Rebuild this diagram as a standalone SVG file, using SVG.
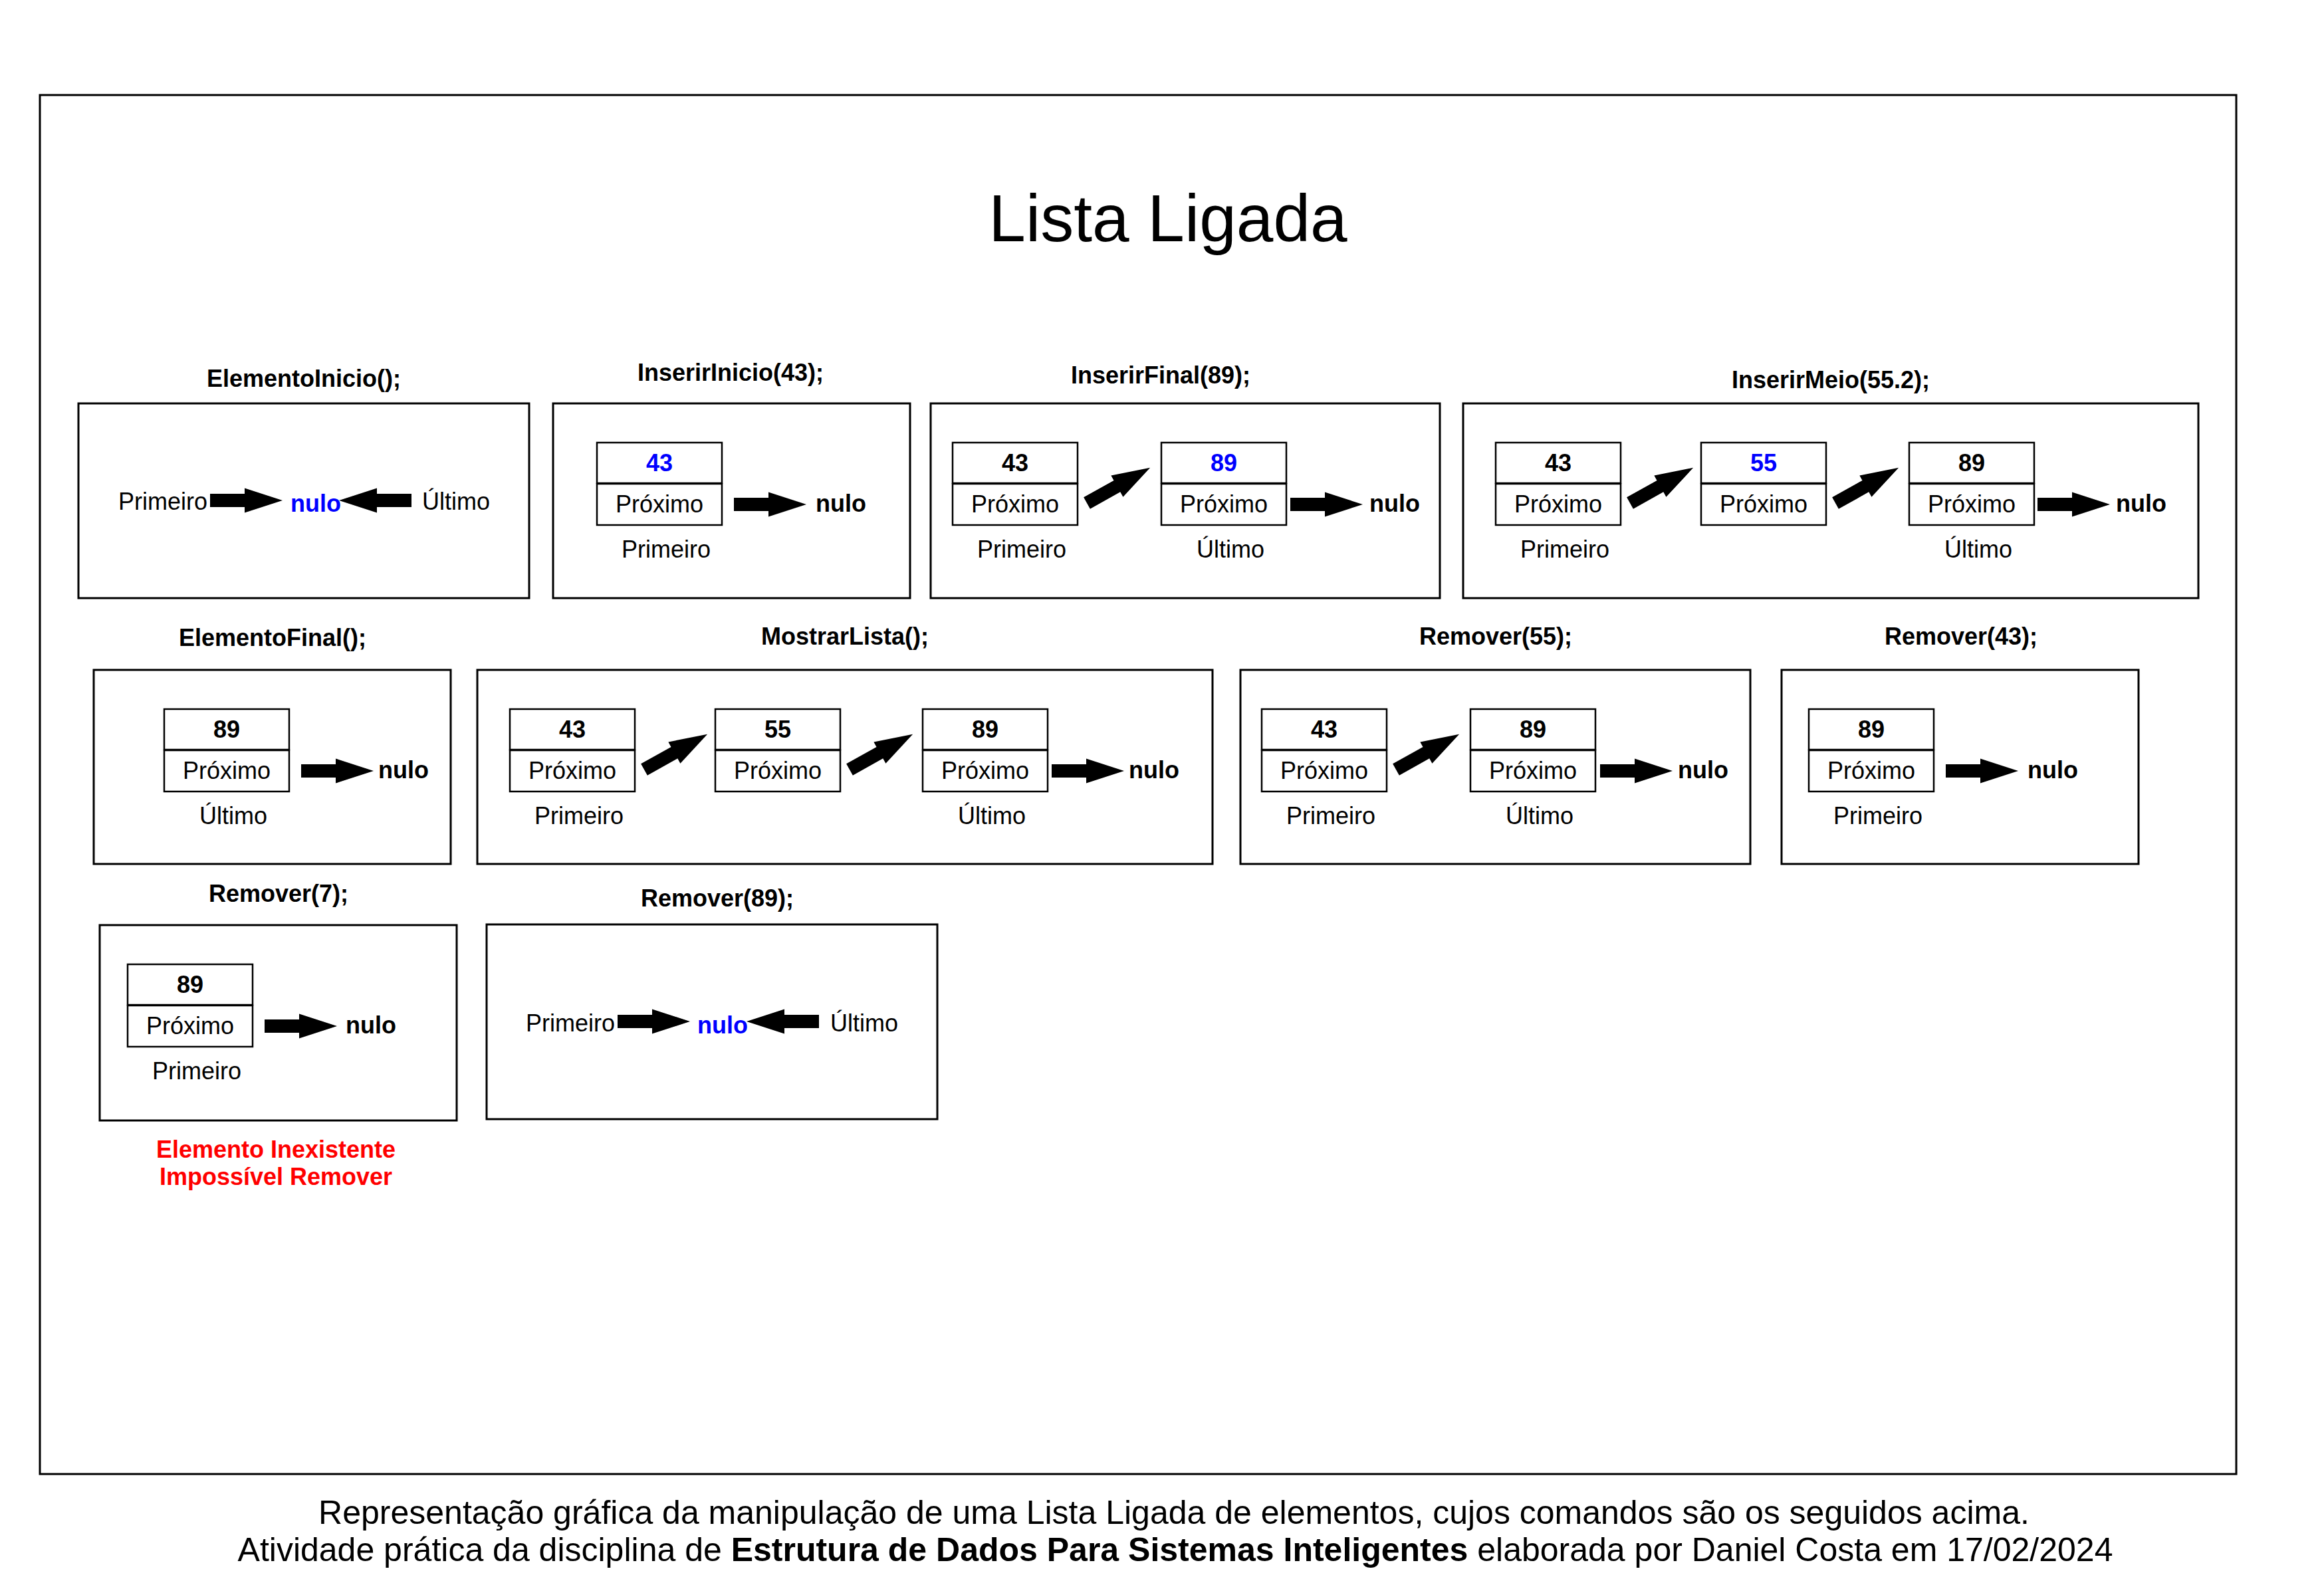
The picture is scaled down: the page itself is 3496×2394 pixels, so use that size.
<svg xmlns="http://www.w3.org/2000/svg" xmlns:xlink="http://www.w3.org/1999/xlink" width="3496" height="2394" viewBox="0 0 3496 2394">
<style>
text{font-family:"Liberation Sans",Arial,sans-serif;fill:#000}
.frame{fill:none;stroke:#000;stroke-width:3}
.panel{fill:#fff;stroke:#000;stroke-width:3}
.cell{fill:#fff;stroke:#000;stroke-width:2.5}
.h{font-size:36px;font-weight:bold;text-anchor:middle}
.v{font-size:36px;font-weight:bold;text-anchor:middle}
.p{font-size:36px;text-anchor:middle}
.l{font-size:36px;text-anchor:middle}
.s{font-size:36px}
.n{font-size:36px;font-weight:bold}
.blue{fill:#0000FF}
.red{fill:#FF0000;font-size:36px;font-weight:bold;text-anchor:middle}
.title{font-size:100px;text-anchor:middle}
.foot{font-size:50px;text-anchor:middle}
.arrow{fill:#000}
</style>
<defs>
<path id="arr" d="M0,-10 H52 V-18.5 L109,0 L52,18.5 V10 H0 Z"/>
</defs>
<rect width="3496" height="2394" fill="#fff"/>
<rect class="frame" x="60" y="143" width="3304" height="2075"/>
<text class="title" x="1757" y="363">Lista Ligada</text>

<!-- Panels -->
<g id="p1">
<text class="h" x="457" y="582">ElementoInicio();</text>
<rect class="panel" x="118" y="607" width="678" height="293"/>
<text class="s" x="178" y="767">Primeiro</text>
<text class="n blue" x="437" y="770">nulo</text>
<text class="s" x="635" y="767">Último</text>
</g>
<g id="p2">
<text class="h" x="1099" y="573">InserirInicio(43);</text>
<rect class="panel" x="832" y="607" width="537" height="293"/>
<text class="n" x="1227" y="770">nulo</text>
<text class="l" x="1002" y="839">Primeiro</text>
</g>
<g id="p3">
<text class="h" x="1746" y="577">InserirFinal(89);</text>
<rect class="panel" x="1400" y="607" width="766" height="293"/>
<text class="n" x="2060" y="770">nulo</text>
<text class="l" x="1537" y="839">Primeiro</text>
<text class="l" x="1851" y="839">Último</text>
</g>
<g id="p4">
<text class="h" x="2754" y="584">InserirMeio(55.2);</text>
<rect class="panel" x="2201" y="607" width="1106" height="293"/>
<text class="n" x="3183" y="770">nulo</text>
<text class="l" x="2354" y="839">Primeiro</text>
<text class="l" x="2976" y="839">Último</text>
</g>
<g id="p5">
<text class="h" x="410" y="972">ElementoFinal();</text>
<rect class="panel" x="141" y="1008" width="537" height="292"/>
<text class="n" x="569" y="1171">nulo</text>
<text class="l" x="351" y="1240">Último</text>
</g>
<g id="p6">
<text class="h" x="1271" y="970">MostrarLista();</text>
<rect class="panel" x="718" y="1008" width="1106" height="292"/>
<text class="n" x="1698" y="1171">nulo</text>
<text class="l" x="871" y="1240">Primeiro</text>
<text class="l" x="1492" y="1240">Último</text>
</g>
<g id="p7">
<text class="h" x="2250" y="970">Remover(55);</text>
<rect class="panel" x="1866" y="1008" width="767" height="292"/>
<text class="n" x="2524" y="1171">nulo</text>
<text class="l" x="2002" y="1240">Primeiro</text>
<text class="l" x="2316" y="1240">Último</text>
</g>
<g id="p8">
<text class="h" x="2950" y="970">Remover(43);</text>
<rect class="panel" x="2680" y="1008" width="537" height="292"/>
<text class="n" x="3050" y="1171">nulo</text>
<text class="l" x="2825" y="1240">Primeiro</text>
</g>
<g id="p9">
<text class="h" x="419" y="1357">Remover(7);</text>
<rect class="panel" x="150" y="1392" width="537" height="294"/>
<text class="n" x="520" y="1555">nulo</text>
<text class="l" x="296" y="1624">Primeiro</text>
<text class="red" x="415" y="1742">Elemento Inexistente</text>
<text class="red" x="415" y="1783">Impossível Remover</text>
</g>
<g id="p10">
<text class="h" x="1079" y="1364">Remover(89);</text>
<rect class="panel" x="732" y="1391" width="678" height="293"/>
<text class="s" x="791" y="1552">Primeiro</text>
<text class="n blue" x="1049" y="1555">nulo</text>
<text class="s" x="1249" y="1552">Último</text>
</g>

<!-- Nodes -->
<g id="n2a"><rect class="cell" x="898" y="666" width="188" height="61"/><rect class="cell" x="898" y="728" width="188" height="62"/><text class="v blue" x="992" y="709">43</text><text class="p" x="992" y="771">Próximo</text></g>
<g id="n3a"><rect class="cell" x="1433" y="666" width="188" height="61"/><rect class="cell" x="1433" y="728" width="188" height="62"/><text class="v" x="1527" y="709">43</text><text class="p" x="1527" y="771">Próximo</text></g>
<g id="n3b"><rect class="cell" x="1747" y="666" width="188" height="61"/><rect class="cell" x="1747" y="728" width="188" height="62"/><text class="v blue" x="1841" y="709">89</text><text class="p" x="1841" y="771">Próximo</text></g>
<g id="n4a"><rect class="cell" x="2250" y="666" width="188" height="61"/><rect class="cell" x="2250" y="728" width="188" height="62"/><text class="v" x="2344" y="709">43</text><text class="p" x="2344" y="771">Próximo</text></g>
<g id="n4b"><rect class="cell" x="2559" y="666" width="188" height="61"/><rect class="cell" x="2559" y="728" width="188" height="62"/><text class="v blue" x="2653" y="709">55</text><text class="p" x="2653" y="771">Próximo</text></g>
<g id="n4c"><rect class="cell" x="2872" y="666" width="188" height="61"/><rect class="cell" x="2872" y="728" width="188" height="62"/><text class="v" x="2966" y="709">89</text><text class="p" x="2966" y="771">Próximo</text></g>

<g id="n5a"><rect class="cell" x="247" y="1067" width="188" height="61"/><rect class="cell" x="247" y="1129" width="188" height="62"/><text class="v" x="341" y="1110">89</text><text class="p" x="341" y="1172">Próximo</text></g>
<g id="n6a"><rect class="cell" x="767" y="1067" width="188" height="61"/><rect class="cell" x="767" y="1129" width="188" height="62"/><text class="v" x="861" y="1110">43</text><text class="p" x="861" y="1172">Próximo</text></g>
<g id="n6b"><rect class="cell" x="1076" y="1067" width="188" height="61"/><rect class="cell" x="1076" y="1129" width="188" height="62"/><text class="v" x="1170" y="1110">55</text><text class="p" x="1170" y="1172">Próximo</text></g>
<g id="n6c"><rect class="cell" x="1388" y="1067" width="188" height="61"/><rect class="cell" x="1388" y="1129" width="188" height="62"/><text class="v" x="1482" y="1110">89</text><text class="p" x="1482" y="1172">Próximo</text></g>
<g id="n7a"><rect class="cell" x="1898" y="1067" width="188" height="61"/><rect class="cell" x="1898" y="1129" width="188" height="62"/><text class="v" x="1992" y="1110">43</text><text class="p" x="1992" y="1172">Próximo</text></g>
<g id="n7b"><rect class="cell" x="2212" y="1067" width="188" height="61"/><rect class="cell" x="2212" y="1129" width="188" height="62"/><text class="v" x="2306" y="1110">89</text><text class="p" x="2306" y="1172">Próximo</text></g>
<g id="n8a"><rect class="cell" x="2721" y="1067" width="188" height="61"/><rect class="cell" x="2721" y="1129" width="188" height="62"/><text class="v" x="2815" y="1110">89</text><text class="p" x="2815" y="1172">Próximo</text></g>

<g id="n9a"><rect class="cell" x="192" y="1451" width="188" height="61"/><rect class="cell" x="192" y="1513" width="188" height="62"/><text class="v" x="286" y="1494">89</text><text class="p" x="286" y="1556">Próximo</text></g>

<!-- Connectors -->
<g id="connectors" class="arrow">
<use xlink:href="#arr" transform="translate(316,753)"/>
<use xlink:href="#arr" transform="translate(619,753) scale(-1,1)"/>
<use xlink:href="#arr" transform="translate(1104,759)"/>
<use xlink:href="#arr" transform="translate(1635,757) rotate(-29.2)"/>
<use xlink:href="#arr" transform="translate(1941,759)"/>
<use xlink:href="#arr" transform="translate(2452,757) rotate(-29.2)"/>
<use xlink:href="#arr" transform="translate(2761,757) rotate(-29.2)"/>
<use xlink:href="#arr" transform="translate(3065,759)"/>
<use xlink:href="#arr" transform="translate(453,1160)"/>
<use xlink:href="#arr" transform="translate(969,1158) rotate(-29.2)"/>
<use xlink:href="#arr" transform="translate(1278,1158) rotate(-29.2)"/>
<use xlink:href="#arr" transform="translate(1582,1160)"/>
<use xlink:href="#arr" transform="translate(2100,1158) rotate(-29.2)"/>
<use xlink:href="#arr" transform="translate(2407,1160)"/>
<use xlink:href="#arr" transform="translate(2927,1160)"/>
<use xlink:href="#arr" transform="translate(398,1544)"/>
<use xlink:href="#arr" transform="translate(929,1537)"/>
<use xlink:href="#arr" transform="translate(1232,1537) scale(-1,1)"/>
</g>

<g id="footer">
<text class="foot" x="1766" y="2293">Representação gráfica da manipulação de uma Lista Ligada de elementos, cujos comandos são os seguidos acima.</text>
<text class="foot" x="1768" y="2349">Atividade prática da disciplina de <tspan font-weight="bold">Estrutura de Dados Para Sistemas Inteligentes</tspan> elaborada por Daniel Costa em 17/02/2024</text>
</g>
</svg>
